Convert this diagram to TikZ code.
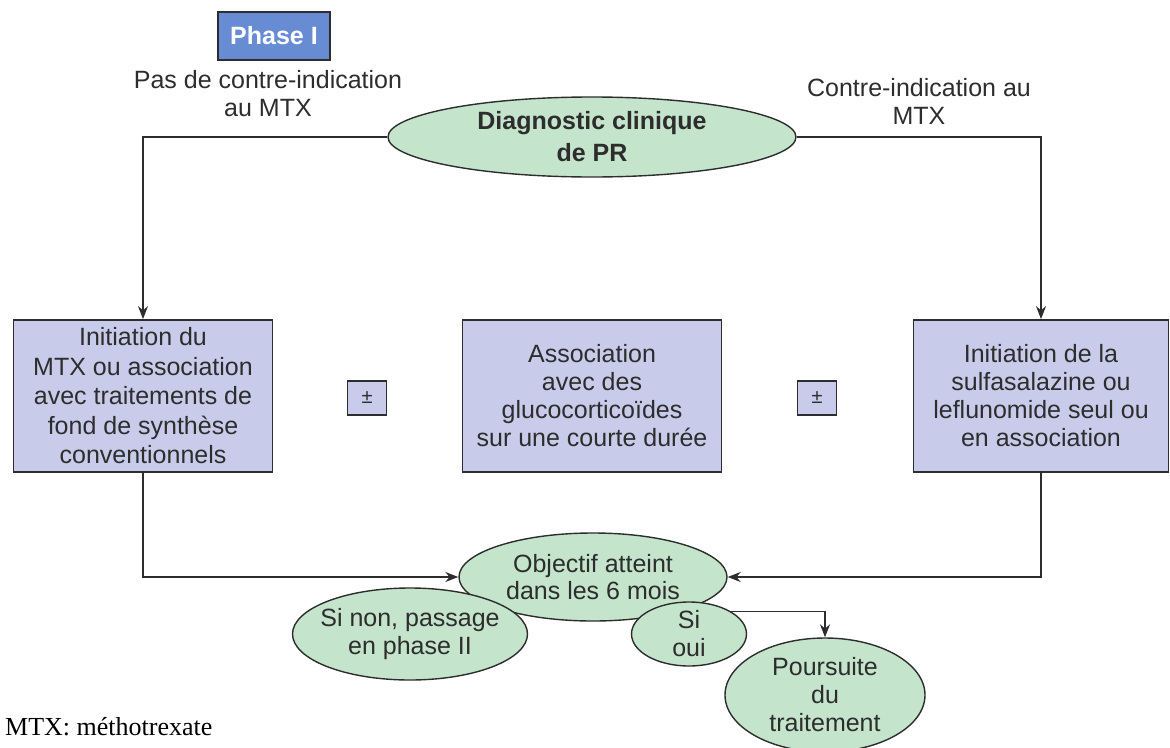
\documentclass[tikz,border=0pt]{standalone}
\usepackage{fontspec}
\setmainfont{Liberation Sans}
\newfontfamily\serifft{Liberation Serif}
\usetikzlibrary{shapes.geometric,arrows.meta}
\definecolor{grn}{RGB}{196,228,204}
\definecolor{lav}{RGB}{200,204,234}
\definecolor{phb}{RGB}{104,140,212}
\definecolor{ink}{RGB}{45,45,45}
\begin{document}
\begin{tikzpicture}[x=1pt,y=-1pt,
  txt/.style={font=\fontsize{25}{28}\selectfont, text=ink, align=center, inner sep=0pt},
  boxtxt/.style={font=\fontsize{25}{29.5}\selectfont, text=ink, align=center, inner sep=0pt},
  ell/.style={ellipse, draw=ink, line width=1.4pt, fill=grn, inner sep=0pt},
  rbox/.style={rectangle, draw=ink, line width=1.8pt, fill=lav, inner sep=0pt},
  arr/.style={draw=ink, line width=1.4pt, -{Stealth[length=13pt,width=10pt]}},
  lnk/.style={draw=ink, line width=1.4pt}]
\useasboundingbox (0,0) rectangle (1170,747);
% Phase I
\node[rectangle, draw=ink, line width=1.8pt, fill=phb, minimum width=112pt, minimum height=48pt,
  text=white, font=\fontsize{25}{28}\selectfont\bfseries] (phase) at (274,36) {Phase I};
\node[txt] (pasci) at (268,94) {Pas de contre-indication\\au MTX};
\node[txt] (ci) at (919,101) {Contre-indication au\\MTX};
% Diagnostic
\node[ell, minimum width=408pt, minimum height=80pt] (diag) at (592,137) {};
\node[txt, font=\fontsize{25}{32}\selectfont\bfseries] (diagt) at (diag) {Diagnostic clinique\\de PR};
% boxes
\node[rbox, minimum width=259pt, minimum height=152pt] (lbox) at (143,396) {};
\node[boxtxt] (lboxt) at (lbox) {Initiation du\\MTX ou association\\avec traitements de\\fond de synthèse\\conventionnels};
\node[rbox, minimum width=259pt, minimum height=152pt] (mbox) at (592,396) {};
\node[boxtxt, font=\fontsize{25}{28}\selectfont] (mboxt) at (mbox) {Association\\avec des\\glucocorticoïdes\\sur une courte durée};
\node[rbox, minimum width=255pt, minimum height=152pt] (rboxn) at (1041,396) {};
\node[boxtxt, font=\fontsize{25}{28}\selectfont] (rboxt) at (rboxn) {Initiation de la\\sulfasalazine ou\\leflunomide seul ou\\en association};
\node[rbox, minimum width=39pt, minimum height=34pt, font=\fontsize{20}{22}\selectfont, text=ink] (pm1) at (367,398) {±};
\node[rbox, minimum width=39pt, minimum height=34pt, font=\fontsize{20}{22}\selectfont, text=ink] (pm2) at (817,398) {±};
% Objectif
\node[ell, minimum width=268pt, minimum height=88pt] (obj) at (593,577) {};
\node[txt, font=\fontsize{25}{27}\selectfont] (objt) at (obj) {Objectif atteint\\dans les 6 mois};
\node[ell, minimum width=235pt, minimum height=92pt] (non) at (410,634) {};
\node[txt, font=\fontsize{25}{28}\selectfont] (nont) at (non) {Si non, passage\\en phase II};
\node[ell, minimum width=115pt, minimum height=64pt] (oui) at (689,634) {};
\node[txt] (ouit) at (oui) {Si\\oui};
\node[ell, minimum width=200pt, minimum height=114pt] (pours) at (825,695) {};
\node[txt, font=\fontsize{25}{28}\selectfont] (courst) at (pours) {Poursuite\\du\\traitement};
% footnote
\node[anchor=base west, inner sep=0pt, font=\serifft\fontsize{26}{28}\selectfont, text=black] (foot) at (5,735) {MTX: méthotrexate};
% connectors
\draw[arr] (diag.west) -| (lbox.north);
\draw[arr] (diag.east) -| (rboxn.north);
\draw[arr] (lbox.south) |- (obj.west);
\draw[arr] (rboxn.south) |- (obj.east);
\draw[arr] (oui.28) -| (pours.north);
\end{tikzpicture}
\end{document}
